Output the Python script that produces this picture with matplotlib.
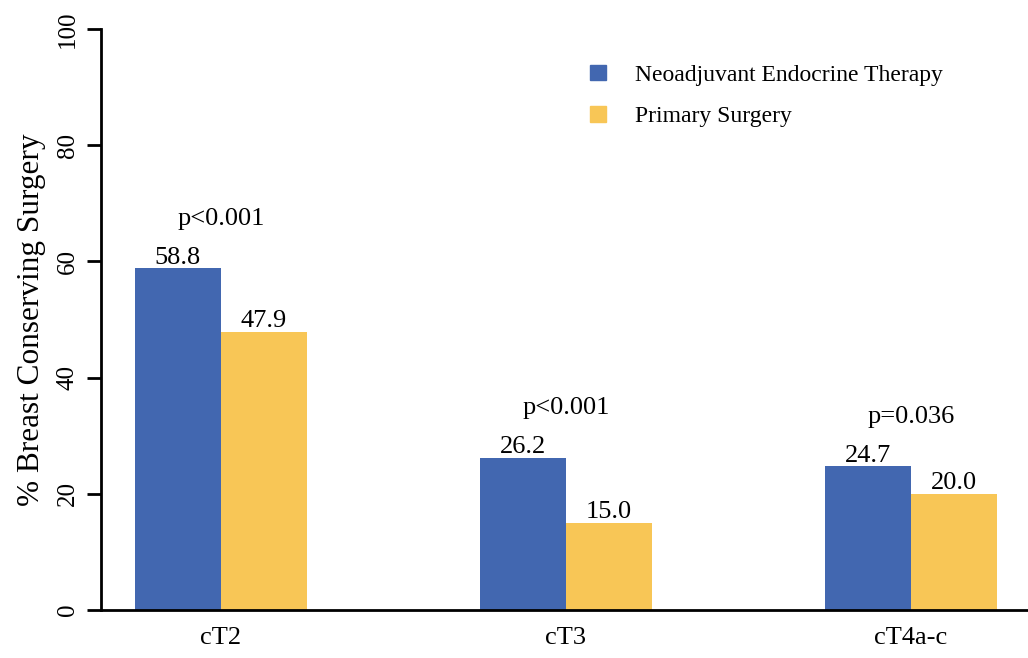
import numpy as np
import matplotlib
matplotlib.use('Agg')
import matplotlib.pyplot as plt
from matplotlib.patches import Patch

plt.rcParams['font.family'] = ['Liberation Serif', 'DejaVu Serif']

# data
stages = ['cT2', 'cT3', 'cT4a-c']
net = [58.8, 26.2, 24.7]
surgery = [47.9, 15.0, 20.0]
pvals = ['p<0.001', 'p<0.001', 'p=0.036']
series_names = ['Neoadjuvant Endocrine Therapy', 'Primary Surgery']

c_blue = '#4267b0'
c_yellow = '#f8c656'

fig = plt.figure(figsize=(10.28, 6.58), dpi=100)
ax = fig.add_axes([0.0982, 0.073, 0.9018, 0.883])

x = np.arange(len(stages))
w = 0.25
b1 = ax.bar(x - w/2, net, w, color=c_blue)
b2 = ax.bar(x + w/2, surgery, w, color=c_yellow)

for rects, vals in [(b1, net), (b2, surgery)]:
    for r, v in zip(rects, vals):
        ax.text(r.get_x() + r.get_width()/2, v - 0.1, '%.1f' % v,
                ha='center', va='bottom', fontsize=19)

for i in range(len(stages)):
    top = max(net[i], surgery[i])
    ax.text(x[i], top + 8.5, pvals[i], ha='center', va='center', fontsize=19)

ax.set_ylim(0, 100)
ax.set_xlim(-0.348, 2.34)
ax.set_yticks([0, 20, 40, 60, 80, 100])
ax.set_xticks(x)
ax.set_xticklabels(stages, fontsize=19)
ax.tick_params(axis='x', length=0, pad=12)
ax.tick_params(axis='y', length=10, width=2, labelsize=18, pad=6)
for lab in ax.get_yticklabels():
    lab.set_rotation(90)
    lab.set_va('center')

for s in ['top', 'right']:
    ax.spines[s].set_visible(False)
ax.spines['left'].set_linewidth(2)
ax.spines['bottom'].set_linewidth(2)

ax.set_ylabel('% Breast Conserving Surgery', fontsize=22.5, labelpad=8)

handles = [Patch(color=c_blue), Patch(color=c_yellow)]
ax.legend(handles, series_names, loc='upper left', bbox_to_anchor=(0.505, 0.975),
          frameon=False, fontsize=17, handlelength=0.65, handleheight=0.65,
          handletextpad=1.25, labelspacing=0.85)

fig.savefig('out.png', dpi=100)
